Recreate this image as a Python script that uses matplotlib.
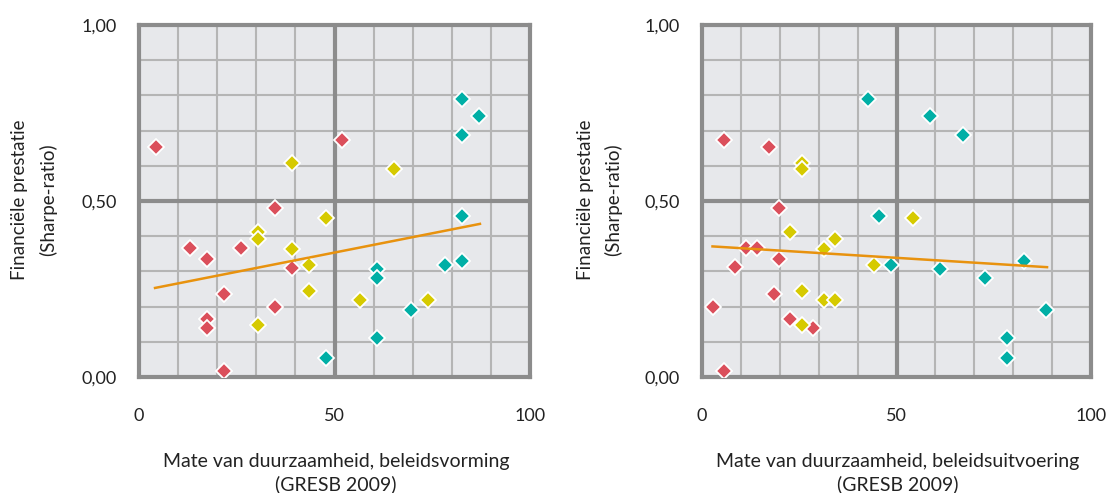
import matplotlib
matplotlib.use("Agg")
import matplotlib.pyplot as plt

plt.rcParams["font.family"] = ["Lato", "DejaVu Sans"]

RED = "#DB4F5B"
YELLOW = "#D6CA00"
TEAL = "#00AFA6"
LINE = "#E8920E"

# Sharpe-ratio per fund group (left panel)
red_y = [0.654, 0.673, 0.481, 0.366, 0.336, 0.366, 0.311, 0.237, 0.198, 0.166, 0.139, 0.016]
yellow_y = [0.609, 0.591, 0.451, 0.412, 0.391, 0.364, 0.319, 0.243, 0.218, 0.218, 0.149]
teal_y = [0.791, 0.741, 0.688, 0.456, 0.330, 0.318, 0.308, 0.280, 0.191, 0.112, 0.054]

# left panel: beleidsvorming
red_x_vorm = [4.3, 52.0, 34.7, 13.0, 17.3, 26.0, 39.1, 21.8, 34.7, 17.3, 17.3, 21.8]
yellow_x_vorm = [39.1, 65.3, 47.9, 30.4, 30.4, 39.1, 43.5, 43.5, 56.5, 74.0, 30.4]
teal_x_vorm = [82.6, 87.0, 82.6, 82.6, 82.6, 78.2, 60.8, 60.8, 69.6, 60.8, 47.9]
trend_x_vorm = [4.1, 87.2]
trend_y_vorm = [0.253, 0.435]

# right panel: beleidsuitvoering
red_x_uitv = [17.1, 5.7, 19.9, 11.3, 19.9, 14.2, 8.6, 18.5, 2.7, 22.7, 28.5, 5.7]
red_y_uitv = [0.654, 0.673, 0.481, 0.366, 0.336, 0.366, 0.312, 0.237, 0.198, 0.166, 0.139, 0.016]
yellow_x_uitv = [25.6, 25.6, 54.2, 22.7, 34.1, 31.3, 44.2, 25.6, 31.3, 34.1, 25.6]
yellow_y_uitv = [0.609, 0.591, 0.451, 0.412, 0.393, 0.364, 0.319, 0.243, 0.218, 0.218, 0.149]
teal_x_uitv = [42.8, 58.5, 67.1, 45.6, 82.8, 48.5, 61.3, 72.7, 88.4, 78.5, 78.5]
teal_y_uitv = [0.791, 0.741, 0.688, 0.456, 0.330, 0.319, 0.308, 0.282, 0.191, 0.112, 0.054]
trend_x_uitv = [2.7, 88.7]
trend_y_uitv = [0.371, 0.312]

x_ticks = [0, 50, 100]
y_ticks = [0.0, 0.5, 1.0]
y_tick_labels = ["0,00", "0,50", "1,00"]

W, H = 1109, 493


def draw_panel(ax, series, trend_x, trend_y):
    ax.set_facecolor("#E7E8EB")
    ax.set_xlim(0, 100)
    ax.set_ylim(0, 1)
    # thin grid every 10 / 0,10
    for v in range(10, 100, 10):
        if v != 50:
            ax.axvline(v, color="#B5B5B5", lw=1.5, zorder=1)
            ax.axhline(v / 100, color="#B5B5B5", lw=1.5, zorder=1)
    # thick quadrant lines
    ax.axvline(50, color="#8C8C8C", lw=3, zorder=1.5)
    ax.axhline(0.5, color="#8C8C8C", lw=3, zorder=1.5)
    for s in ax.spines.values():
        s.set_color("#8C8C8C")
        s.set_linewidth(3)

    for xs, ys, c in series:
        ax.plot(xs, ys, linestyle="none", marker="D", markersize=8.5,
                markerfacecolor=c, markeredgecolor="white", markeredgewidth=1.3, zorder=3)
    ax.plot(trend_x, trend_y, color=LINE, lw=1.8, zorder=4)

    ax.set_xticks(x_ticks)
    ax.set_yticks(y_ticks)
    ax.set_yticklabels(y_tick_labels)
    ax.tick_params(length=0, labelsize=13, colors="#222222")
    ax.tick_params(axis="x", pad=22)
    ax.tick_params(axis="y", pad=16)


fig = plt.figure(figsize=(W / 100, H / 100), dpi=100)

ax1 = fig.add_axes([139 / W, 1 - 377 / H, 391 / W, 352 / H])
draw_panel(ax1, [(red_x_vorm, red_y, RED), (yellow_x_vorm, yellow_y, YELLOW),
                 (teal_x_vorm, teal_y, TEAL)], trend_x_vorm, trend_y_vorm)

ax2 = fig.add_axes([702 / W, 1 - 377 / H, 389 / W, 352 / H])
draw_panel(ax2, [(red_x_uitv, red_y_uitv, RED), (yellow_x_uitv, yellow_y_uitv, YELLOW),
                 (teal_x_uitv, teal_y_uitv, TEAL)], trend_x_uitv, trend_y_uitv)

# axis titles
txt = dict(color="#222222", ha="center", va="center")
for x0, xc, name in [(20, 336, "beleidsvorming"), (585, 898, "beleidsuitvoering")]:
    fig.text(x0 / W, 1 - 200 / H, "Financiële prestatie", rotation=90, fontsize=13.5, **txt)
    fig.text((x0 + 28) / W, 1 - 200 / H, "(Sharpe-ratio)", rotation=90, fontsize=13.5, **txt)
    fig.text(xc / W, 1 - 461 / H, "Mate van duurzaamheid, " + name, fontsize=14, **txt)
    fig.text(xc / W, 1 - 484 / H, "(GRESB 2009)", fontsize=14, **txt)

fig.savefig("out.png", dpi=100)
